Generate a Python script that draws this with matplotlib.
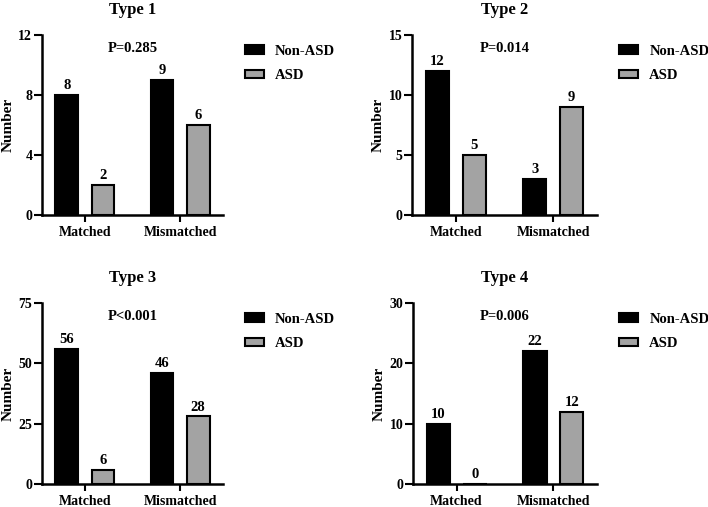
import matplotlib
matplotlib.use("Agg")
import matplotlib.pyplot as plt
import numpy as np

plt.rcParams['font.family'] = ['Liberation Serif', 'DejaVu Serif']
plt.rcParams['font.weight'] = 'bold'

titles = ["Type 1", "Type 2", "Type 3", "Type 4"]
categories = ["Matched", "Mismatched"]
series_names = ["Non-ASD", "ASD"]
non_asd = [[8, 9], [12, 3], [56, 46], [10, 22]]
asd = [[2, 6], [5, 9], [6, 28], [0, 12]]
p_values = ["P=0.285", "P=0.014", "P<0.001", "P=0.006"]
y_max = [12, 15, 75, 30]
y_ticks = [[0, 4, 8, 12], [0, 5, 10, 15], [0, 25, 50, 75], [0, 10, 20, 30]]

colors = ["#000000", "#a3a3a3"]

W, H = 708, 507
fig = plt.figure(figsize=(W / 100, H / 100), dpi=100)

# axes rectangles in pixels: left, top, right, bottom
rects = [(42, 35, 223, 215), (412, 35, 597, 215),
         (42, 303, 223, 484), (413, 303, 597, 484)]

x = np.arange(len(categories))
off = 0.19
bw = 0.24

for i, (l, t, r, b) in enumerate(rects):
    ax = fig.add_axes([l / W, 1 - b / H, (r - l) / W, (b - t) / H])
    b1 = ax.bar(x - off, non_asd[i], bw, color=colors[0], edgecolor='black',
                linewidth=1.5, label=series_names[0])
    b2 = ax.bar(x + off, asd[i], bw, color=colors[1], edgecolor='black',
                linewidth=1.5, label=series_names[1])
    ax.bar_label(b1, padding=2, fontsize=10.5, fontweight='bold')
    ax.bar_label(b2, padding=2, fontsize=10.5, fontweight='bold')
    ax.set_xlim(-0.45, 1.45)
    ax.set_ylim(0, y_max[i])
    ax.set_yticks(y_ticks[i])
    ax.set_xticks(x)
    ax.set_xticklabels(categories, fontsize=10, fontweight='bold')
    ax.tick_params(axis='y', labelsize=10, width=1.5, length=6, pad=1)
    ax.tick_params(axis='x', width=1.5, length=5, pad=3)
    for s in ['top', 'right']:
        ax.spines[s].set_visible(False)
    for s in ['left', 'bottom']:
        ax.spines[s].set_linewidth(1.8)
    ax.set_ylabel("Number", fontsize=11, fontweight='bold', labelpad=3)
    ax.set_title(titles[i], fontsize=12, fontweight='bold', pad=15)
    ax.text(0.5, 0.925, p_values[i], transform=ax.transAxes, ha='center',
            va='center', fontsize=10.5, fontweight='bold')
    ax.legend(loc='upper left', bbox_to_anchor=(1.05, 1.02), frameon=False,
              handlelength=1.3, handleheight=0.55, handletextpad=0.75,
              labelspacing=0.8, prop={'size': 10.5, 'weight': 'bold'})

fig.savefig("out.png", dpi=100)
